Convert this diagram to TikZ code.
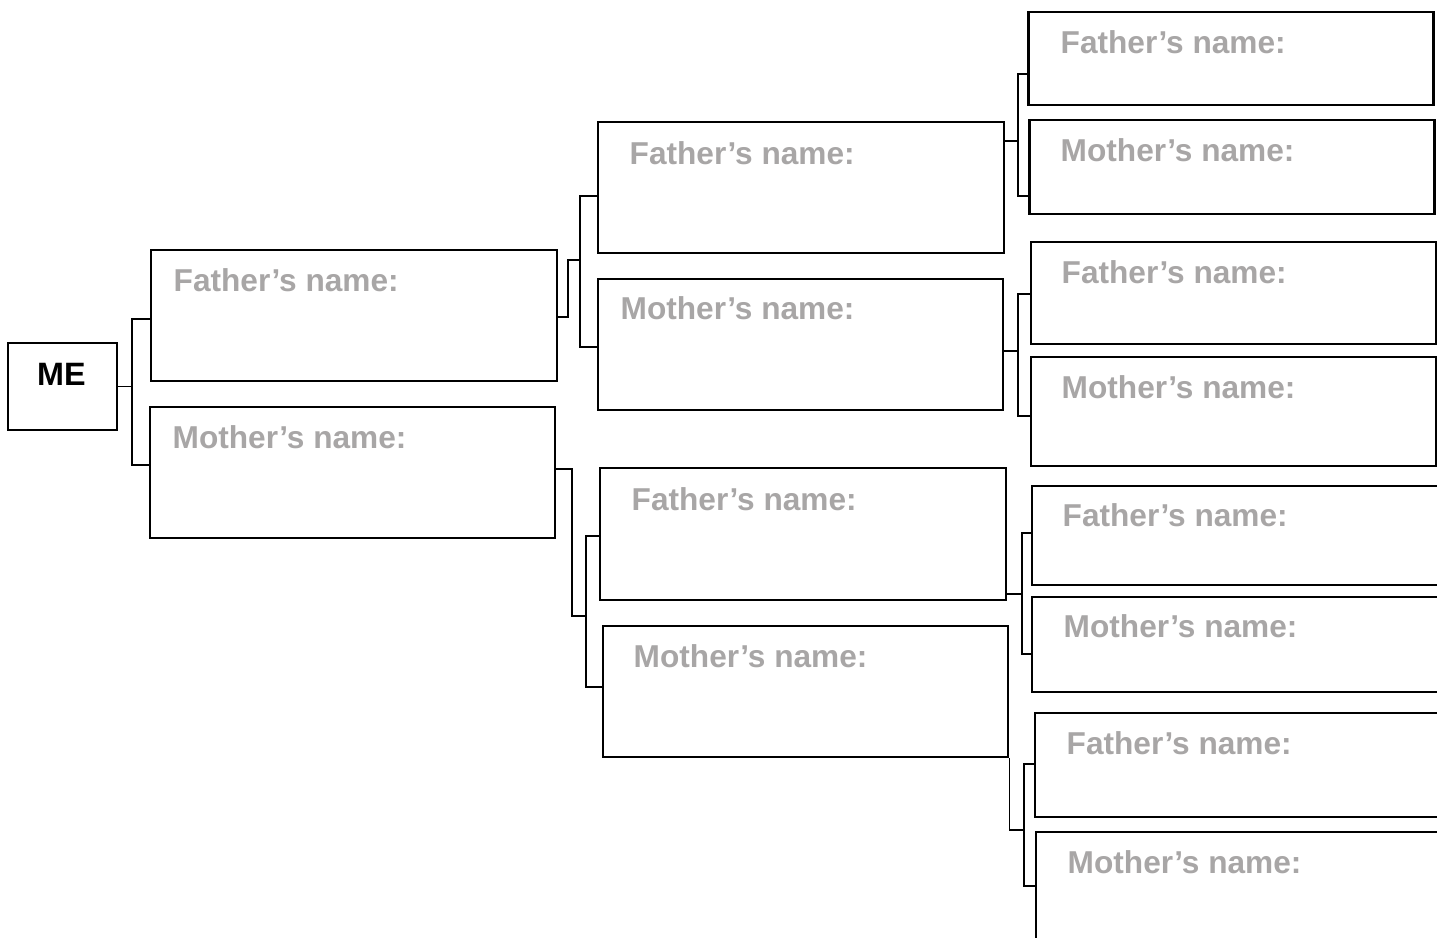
\documentclass[tikz,border=0pt]{standalone}
\usepackage{fontspec}
\setmainfont{Liberation Sans}
\definecolor{namegray}{RGB}{168,166,166}
\tikzset{
  box/.style={draw, line width=0.8pt, inner sep=0pt, minimum width=40.5mm},
  link/.style={line width=0.4pt},
  lbl/.style={anchor=base west, inner sep=0pt, text=namegray, font=\bfseries\fontsize{9}{11}\selectfont},
}
\begin{document}
\begin{tikzpicture}[x=0.1mm, y=-0.1mm]
                \clip (0,0) rectangle (1437,937);

                % me
                \node[box, minimum width=10.9mm, minimum height=8.7mm] (me) at (62.5, 386.5) {};
                \node[anchor=base, inner sep=0pt, font=\bfseries\fontsize{9.2}{11}\selectfont] (meT) at (61.5, 385) {ME};

                % parents
                \node[box, minimum width=40.6mm, minimum height=13.1mm] (f1) at (354, 315.5) {};
                \node[box, minimum height=13.1mm] (m1) at (352.5, 472.5) {};
                \node[lbl] (f1T) at (173, 291) {Father’s name:};
                \node[lbl] (m1T) at (172, 448) {Mother’s name:};

                % grandparents
                \node[box, minimum width=40.6mm, minimum height=13.1mm] (ff) at (801, 187.5) {};
                \node[box, minimum height=13.1mm] (fm) at (800.5, 344.5) {};
                \node[box, minimum width=40.6mm, minimum height=13.2mm] (mf) at (803, 534) {};
                \node[box, minimum height=13.1mm] (mm) at (805.5, 691.5) {};
                \node[lbl] (ffT) at (629, 164) {Father’s name:};
                \node[lbl] (fmT) at (620, 319) {Mother’s name:};
                \node[lbl] (mfT) at (631, 510) {Father’s name:};
                \node[lbl] (mmT) at (633, 667) {Mother’s name:};

                % great-grandparents
                \node[box, minimum height=9.3mm] (g1) at (1231, 58.5) {};
                \node[box, minimum height=9.4mm] (g2) at (1232, 167) {};
                \node[box, minimum height=10.2mm] (g3) at (1233.5, 293) {};
                \node[box, minimum height=10.9mm] (g4) at (1233.5, 411.5) {};
                \node[box, minimum width=41mm, minimum height=9.9mm] (g5) at (1237, 535.5) {};
                \node[box, minimum width=41mm, minimum height=9.5mm] (g6) at (1237, 644.5) {};
                \node[box, minimum width=41mm, minimum height=10.4mm] (g7) at (1240, 765) {};
                \node[box, minimum width=41mm, minimum height=11.6mm] (g8) at (1241, 890) {};
                \node[lbl] (g1T) at (1060, 53) {Father’s name:};
                \node[lbl] (g2T) at (1060, 161) {Mother’s name:};
                \node[lbl] (g3T) at (1061, 283) {Father’s name:};
                \node[lbl] (g4T) at (1061, 398) {Mother’s name:};
                \node[lbl] (g5T) at (1062, 526) {Father’s name:};
                \node[lbl] (g6T) at (1063, 637) {Mother’s name:};
                \node[lbl] (g7T) at (1066, 754) {Father’s name:};
                \node[lbl] (g8T) at (1067, 873) {Mother’s name:};

                % brackets
                \draw[link] (me.east) -- ++(15,0);
                \draw[link] (f1.west |- 0,319) -| (132,465) -- (m1.west |- 0,465);

                \draw[link] (f1.east |- 0,317) -| (568,260) -- (580,260);
                \draw[link] (ff.west |- 0,196) -| (580,347) -- (fm.west |- 0,347);
                \draw[link] (m1.east |- 0,469) -| (572,616) -- (586,616);
                \draw[link] (mf.west |- 0,536) -| (586,687) -- (mm.west |- 0,687);

                \draw[link] (ff.east |- 0,141) -- (1018,141);
                \draw[link] (g1.west |- 0,74) -| (1018,196) -- (g2.west |- 0,196);
                \draw[link] (fm.east |- 0,351) -- (1018,351);
                \draw[link] (g3.west |- 0,294) -| (1018,416) -- (g4.west |- 0,416);
                \draw[link] (mf.east |- 0,594) -- (1022,594);
                \draw[link] (g5.west |- 0,533) -| (1022,654) -- (g6.west |- 0,654);
                \draw[link] (mm.south east) |- (1024,830);
                \draw[link] (g7.west |- 0,764) -| (1024,886) -- (g8.west |- 0,886);
            \end{tikzpicture}
\end{document}
